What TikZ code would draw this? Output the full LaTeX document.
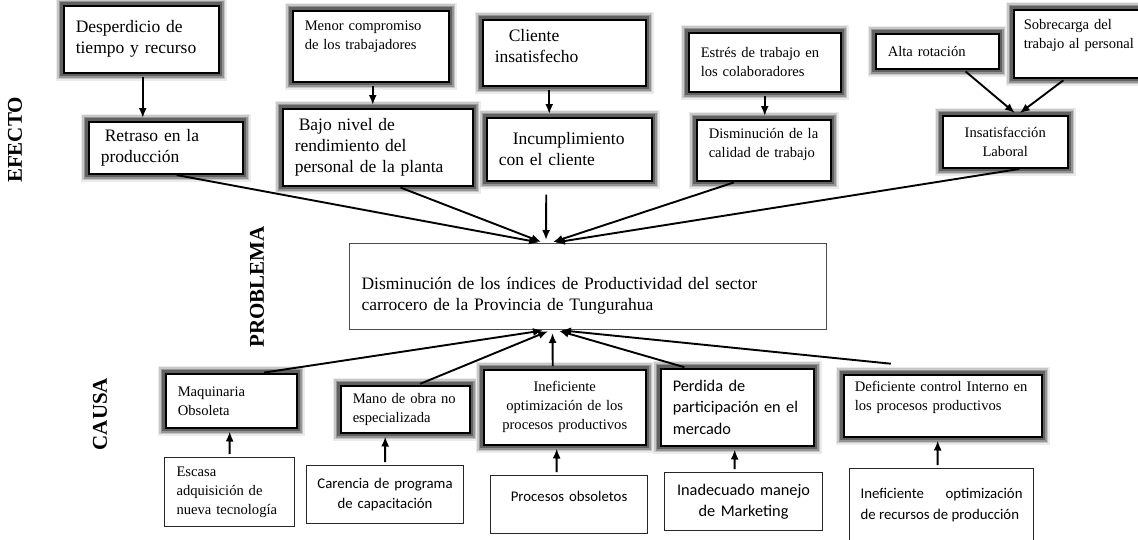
\documentclass[tikz,border=0pt]{standalone}
\usepackage{fontspec}
\setmainfont{Liberation Serif}
\newfontfamily\calibri{Carlito}
\usepackage{tikz}
\usetikzlibrary{arrows.meta,positioning}
\newcommand{\lgfont}{\fontsize{17.5}{21}\selectfont}
\newcommand{\smfont}{\fontsize{14.6}{19}\selectfont}
\newcommand{\calsmall}{\calibri\fontsize{14.8}{20.5}\selectfont}
\newcommand{\callarge}{\calibri\fontsize{16.3}{21.5}\selectfont}
\newcommand{\dropline}[1]{\rule[-#1]{0pt}{#1}}
\tikzset{
	glowbox/.style={
		draw=black, line width=1.5pt, fill=white,
		preaction={draw=black!8, line width=16pt},
		preaction={draw=black!22, line width=13pt},
		preaction={draw=black!42, line width=10pt},
		preaction={draw=black!62, line width=7pt},
		anchor=north west, inner xsep=12pt, inner ysep=3pt, align=left
	},
	plainbox/.style={
		draw=black!85, line width=1.1pt, fill=white,
		anchor=north west, inner xsep=12pt, inner ysep=3pt, align=left
	},
	sidelabel/.style={rotate=90, font=\fontsize{21}{24}\selectfont\bfseries},
	arrow_line/.style={-{Latex[length=10pt,width=8pt]}, line width=1.9pt,
		shorten <=3pt, shorten >=3pt}
}
\begin{document}
\begin{tikzpicture}[x=1pt, y=-1pt]
	\path[use as bounding box, fill=white] (0,0) rectangle (1138,539);
	% efecto
	\node[glowbox, font=\lgfont, text width=131pt, minimum height=67pt] (desperdicio) at (63,5) {Desperdicio de\\tiempo y recurso};
	\node[glowbox, font=\smfont, text width=132pt, minimum height=71pt] (compromiso) at (292,10) {Menor compromiso\\de los trabajadores\dropline{22pt}};
	\node[glowbox, font=\lgfont, text width=139pt, minimum height=66pt] (cliente) at (482,19) {\hspace*{14pt}Cliente\\insatisfecho\dropline{14pt}};
	\node[glowbox, font=\smfont, text width=128pt, minimum height=59pt] (estres) at (688,32) {Estrés de trabajo en\\los colaboradores};
	\node[glowbox, font=\smfont, text width=99pt, minimum height=35pt] (rotacion) at (875,33) {Alta rotación};
	\node[glowbox, font=\smfont, text width=124pt, inner xsep=10pt, minimum height=68pt] (sobrecarga) at (1013,9) {Sobrecarga del\\trabajo al personal\dropline{20pt}};
	\node[glowbox, font=\lgfont, text width=130pt, minimum height=52pt] (retraso) at (88,121) {\hspace*{4pt}Retraso en la\\producción};
	\node[glowbox, font=\lgfont, text width=166pt, minimum height=77pt] (bajo) at (282,108) {\hspace*{4pt}Bajo nivel de\\rendimiento del\\personal de la planta};
	\node[glowbox, font=\lgfont, text width=141pt, minimum height=63pt] (incumplimiento) at (486,117) {\hspace*{14pt}Incumplimiento\\con el cliente};
	\node[glowbox, font=\smfont, text width=110pt, minimum height=61pt] (disminucion) at (696,119) {Disminución de la\\calidad de trabajo\dropline{14pt}};
	\node[glowbox, font=\smfont, text width=101pt, minimum height=52pt, align=center] (insatisfaccion) at (942,115) {Insatisfacción\\Laboral};
	% problema
	\node[plainbox, draw=black!70, line width=1pt, font=\lgfont, text width=453pt, minimum height=86pt] (productividad) at (349,243) {\rule{0pt}{30pt}Disminución de los índices de Productividad del sector\\carrocero de la Provincia de Tungurahua};
	% causa
	\node[glowbox, font=\smfont, text width=107pt, minimum height=54pt] (maquinaria) at (165,373) {Maquinaria\\Obsoleta};
	\node[glowbox, font=\smfont, text width=105pt, minimum height=47pt] (manoobra) at (340,385) {Mano de obra no\\especializada};
	\node[glowbox, font=\smfont, text width=138pt, minimum height=75pt, align=center] (optimizacion) at (483,369) {Ineficiente\\optimización de los\\procesos productivos};
	\node[glowbox, font=\callarge, text width=129pt, minimum height=77pt] (perdida) at (660,368) {Perdida de\\participación en el\\mercado};
	\node[glowbox, font=\smfont, text width=176pt, inner xsep=11pt, minimum height=62pt] (control) at (843,374) {Deficiente control Interno en\\los procesos productivos\dropline{19pt}};
	\node[plainbox, font=\smfont, text width=106pt, minimum height=69pt] (tecnologia) at (164,457) {Escasa\\adquisición de\\nueva tecnología};
	\node[plainbox, font=\calsmall, text width=137pt, inner xsep=10pt, minimum height=58pt, align=center] (capacitacion) at (306,465) {Carencia de programa\\de capacitación};
	\node[plainbox, font=\calsmall, text width=133pt, minimum height=58pt, align=center] (obsoletos) at (490,475) {Procesos obsoletos\dropline{16pt}};
	\node[plainbox, font=\callarge, text width=142pt, inner xsep=8pt, minimum height=58pt, align=center] (marketing) at (664,472) {Inadecuado manejo\\de Marketing};
	\node[plainbox, font=\calsmall, text width=162pt, inner xsep=11pt, minimum height=73pt, align=justify] (recursos) at (849,468) {Ineficiente\hfill optimización\\de recursos de producción};
	% etiquetas
	\node[sidelabel] (efecto) at (15,140) {EFECTO};
	\node[sidelabel] (problema) at (257,287) {PROBLEMA};
	\node[sidelabel] (causa) at (100,414) {CAUSA};
	% flechas efecto
	\draw[arrow_line] ([xshift=1.5pt]desperdicio.south) -- ([xshift=-23pt]retraso.north);
	\draw[arrow_line] ([xshift=2pt]compromiso.south) -- ([xshift=-5pt]bajo.north);
	\draw[arrow_line] ([xshift=-15pt]cliente.south) -- ([xshift=-20pt]incumplimiento.north);
	\draw[arrow_line] (estres.south) -- ([xshift=1pt]disminucion.north);
	\draw[arrow_line] ([xshift=26pt]rotacion.south) -- ([xshift=12pt]insatisfaccion.north);
	\draw[arrow_line] ([xshift=-20pt]sobrecarga.south) -- ([xshift=12pt]insatisfaccion.north);
	\draw[arrow_line] ([xshift=8pt]retraso.south) -- ([xshift=-46pt]productividad.north);
	\draw[arrow_line] ([xshift=20pt]bajo.south) -- ([xshift=-44pt]productividad.north);
	\draw[arrow_line] ([xshift=-23pt,yshift=-10pt]incumplimiento.south) -- ([xshift=-42pt]productividad.north);
	\draw[arrow_line] ([xshift=-27pt]disminucion.south) -- ([xshift=-38pt]productividad.north);
	\draw[arrow_line] ([xshift=17pt]insatisfaccion.south) -- ([xshift=-36pt]productividad.north);
	% flechas causa
	\draw[arrow_line] ([xshift=30pt]maquinaria.north) -- ([xshift=-42pt]productividad.south);
	\draw[arrow_line] ([xshift=12pt]manoobra.north) -- ([xshift=-37pt]productividad.south);
	\draw[arrow_line] ([xshift=-12pt]optimizacion.north) -- ([xshift=-35.5pt]productividad.south);
	\draw[arrow_line] ([xshift=-50pt]perdida.north) -- ([xshift=-32pt]productividad.south);
	\draw[arrow_line] ([xshift=-49pt,yshift=10pt]control.north) -- ([xshift=-30pt]productividad.south);
	\draw[arrow_line] (tecnologia.north) -- ([xshift=-1.5pt]maquinaria.south);
	\draw[arrow_line] (capacitacion.north) -- ([xshift=-20pt]manoobra.south);
	\draw[arrow_line] ([xshift=-12.5pt]obsoletos.north) -- ([xshift=-8pt]optimizacion.south);
	\draw[arrow_line] ([xshift=-9pt]marketing.north) -- ([xshift=-2.5pt]perdida.south);
	\draw[arrow_line] ([xshift=-4pt]recursos.north) -- ([xshift=-5pt]control.south);
\end{tikzpicture}
\end{document}
